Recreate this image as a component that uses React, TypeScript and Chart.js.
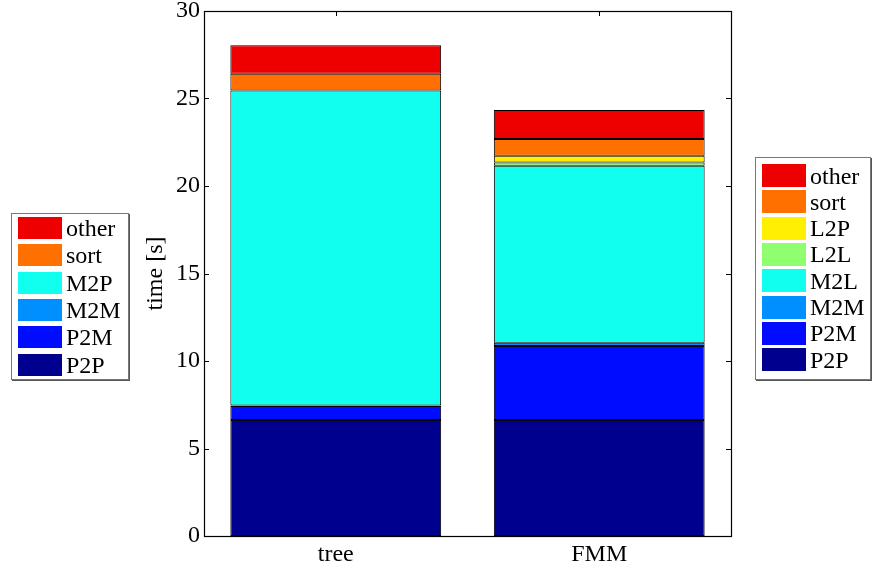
import React, { useEffect, useRef } from "react";
import { Chart, registerables } from "chart.js";

Chart.register(...registerables);

const categories = ["tree", "FMM"];
const yTicks = [0, 5, 10, 15, 20, 25, 30];

const P2P = [6.63, 6.63];
const P2M = [0.8, 4.23];
const M2M = [0.03, 0.19];
const M2P = [18.0, null];
const M2L = [null, 10.11];
const L2L = [null, 0.19];
const L2P = [null, 0.38];
const sort = [0.95, 0.96];
const other = [1.64, 1.65];

const seriesNames = ["P2P", "P2M", "M2M", "M2P", "M2L", "L2L", "L2P", "sort", "other"];
const seriesValues = [P2P, P2M, M2M, M2P, M2L, L2L, L2P, sort, other];
const seriesColors = ["#00008f", "#000cff", "#008fff", "#10ffef", "#10ffef", "#8fff70", "#ffef00", "#ff7000", "#ee0000"];

const leftLegend = ["other", "sort", "M2P", "M2M", "P2M", "P2P"];
const rightLegend = ["other", "sort", "L2P", "L2L", "M2L", "M2M", "P2M", "P2P"];

const FONT = "'Liberation Serif', 'Times New Roman', serif";

const colorOf = (name: string) => seriesColors[seriesNames.indexOf(name)];

const framePlugin = {
  id: "frame",
  afterDatasetsDraw(chart: any) {
    const { ctx, chartArea } = chart;
    const { left, right, top, bottom } = chartArea;
    const y = chart.scales.y;
    const x = chart.scales.x;
    ctx.save();
    ctx.strokeStyle = "#000";
    ctx.lineWidth = 1;
    ctx.beginPath();
    const tl = 5;
    yTicks.forEach((v) => {
      const py = Math.round(y.getPixelForValue(v)) + 0.5;
      ctx.moveTo(left, py);
      ctx.lineTo(left + tl, py);
      ctx.moveTo(right, py);
      ctx.lineTo(right - tl, py);
    });
    categories.forEach((_, i) => {
      const px = Math.round(x.getPixelForValue(i)) + 0.5;
      ctx.moveTo(px, top);
      ctx.lineTo(px, top + tl);
    });
    ctx.stroke();
    ctx.lineWidth = 1.2;
    ctx.strokeRect(Math.round(left) + 0.5, Math.round(top) + 0.5, Math.round(right - left), Math.round(bottom - top));
    ctx.restore();
  },
};

function Legend({ items, left, top, width, height, swTop, step, swH }: any) {
  return (
    <div
      style={{
        position: "absolute",
        left,
        top,
        width,
        height,
        border: "1px solid #777",
        boxShadow: "1px 1px 0 #555",
        background: "#fff",
        boxSizing: "border-box",
      }}
    >
      {items.map((name: string, i: number) => (
        <div key={name}>
          <div
            style={{
              position: "absolute",
              left: 6,
              top: swTop + i * step,
              width: 44,
              height: swH,
              background: colorOf(name),
            }}
          />
          <div
            style={{
              position: "absolute",
              left: 54,
              top: swTop + i * step + swH / 2 - 14,
              height: 28,
              lineHeight: "28px",
              fontFamily: FONT,
              fontSize: 24,
              color: "#000",
              whiteSpace: "nowrap",
            }}
          >
            {name}
          </div>
        </div>
      ))}
    </div>
  );
}

export default function App() {
  const ref = useRef<HTMLCanvasElement>(null);
  useEffect(() => {
    document.body.style.margin = "0";
    const chart = new Chart(ref.current!, {
      type: "bar",
      data: {
        labels: categories,
        datasets: seriesNames.map((n, i) => ({
          label: n,
          data: seriesValues[i] as any,
          backgroundColor: seriesColors[i],
          borderColor: "#000",
          borderWidth: 1,
          borderSkipped: false,
          barPercentage: 0.8,
          categoryPercentage: 1,
        })),
      },
      options: {
        responsive: false,
        animation: false,
        layout: { padding: { left: 137, right: 141, top: 11, bottom: 0 } },
        plugins: { legend: { display: false }, tooltip: { enabled: false } },
        scales: {
          x: {
            stacked: true,
            grid: { display: false, drawTicks: false },
            border: { display: false },
            ticks: { color: "#000", font: { family: FONT, size: 24 }, padding: 4 },
            afterFit: (s: any) => {
              s.height = 35;
              s.paddingLeft = 0;
              s.paddingRight = 0;
            },
          },
          y: {
            stacked: true,
            min: 0,
            max: 30,
            grid: { display: false, drawTicks: false },
            border: { display: false },
            ticks: { color: "#000", stepSize: 5, font: { family: FONT, size: 24 }, padding: 4 },
            title: { display: true, text: "time [s]", color: "#000", font: { family: FONT, size: 24 }, padding: { top: 4, bottom: 0 } },
            afterFit: (s: any) => {
              s.width = 67;
              s.paddingTop = 0;
              s.paddingBottom = 0;
            },
          },
        },
      },
      plugins: [framePlugin],
    });
    return () => chart.destroy();
  }, []);
  return (
    <div style={{ position: "relative", width: 872, height: 571, background: "#fff" }}>
      <canvas ref={ref} width={872} height={571} style={{ display: "block" }} />
      <Legend items={leftLegend} left={11} top={213} width={118} height={167} swTop={3} step={27.3} swH={22} />
      <Legend items={rightLegend} left={755} top={157} width={116} height={223} swTop={6} step={26.3} swH={23} />
    </div>
  );
}
